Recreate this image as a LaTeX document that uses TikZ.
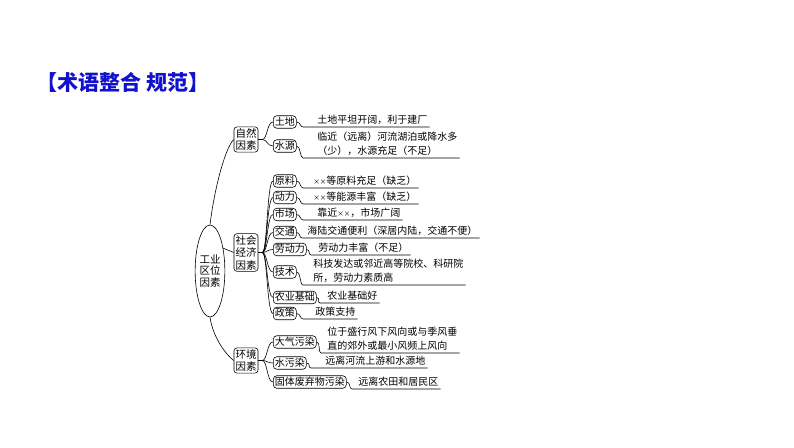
\documentclass[tikz,border=0pt]{standalone}
\usepackage{fontspec}
\setmainfont{Noto Sans CJK SC}
\usetikzlibrary{shapes.geometric}
\definecolor{titleblue}{RGB}{18,18,205}

\tikzset{
  yinsu/.style={draw, rounded corners=3pt, inner sep=1.5pt, align=center,
    font=\fontsize{10.5}{12.5}\selectfont},
  xiang/.style={draw, rounded corners=3.5pt, anchor=west, inner xsep=1.5pt,
    inner ysep=1pt, text height=8.5pt, text depth=2pt,
    font=\fontsize{10}{12}\selectfont},
  shuoming/.style={anchor=south west, inner xsep=0pt, inner ysep=2pt,
    align=left, font=\fontsize{10}{14}\selectfont},
  fenzhi/.style={to path={-- ++(4,0) .. controls +(5,0) and +(-6,0) .. (\tikztotarget)}},
  gouzi/.style={to path={.. controls +(4,0) and +(-3,0) .. (\tikztotarget)}}
}
\newcommand{\xx}{{\fontsize{6.5}{6.5}\selectfont ××}}

\begin{document}
\begin{tikzpicture}[x=1pt, y=-1pt, line width=0.6pt]
 \useasboundingbox (0,0) rectangle (794,447);
 \node[anchor=west, text=titleblue, font=\fontsize{21}{21}\selectfont\bfseries] (biaoti) at (33,82) {【术语整合 规范】};
 \node[ellipse, draw, inner sep=0pt, minimum width=26pt, minimum height=92pt,
   align=center, font=\fontsize{10.5}{11.7}\selectfont] (gongye) at (210,271) {工业\\区位\\因素};
 \begin{scope}[every node/.style={yinsu}]
  \node (ziran) at (246,139.5) {自然\\因素};
  \node (shehui) at (246,252.5) {社会\\经济\\因素};
  \node (huanjing) at (246,360.5) {环境\\因素};
 \end{scope}
 \begin{scope}[every node/.style={xiang}]
  \node (tudi) at (273,122) {土地};
  \node (shuiyuan) at (273,146) {水源};
  \node (yuanliao) at (273,181) {原料};
  \node (dongli) at (273,197.5) {动力};
  \node (shichang) at (273,214.5) {市场};
  \node (jiaotong) at (273,232.5) {交通};
  \node (laodongli) at (273,249.5) {劳动力};
  \node (jishu) at (273,272) {技术};
  \node (nongye) at (273,297.5) {农业基础};
  \node (zhengce) at (273,313.5) {政策};
  \node (daqi) at (273,342) {大气污染};
  \node (shuiwuran) at (273,363) {水污染};
  \node (guti) at (273,382) {固体废弃物污染};
 \end{scope}
 \begin{scope}[every node/.style={shuoming}]
  \node (t1) at (317,127) {土地平坦开阔，利于建厂};
  \node (t2) at (317,158) {临近（远离）河流湖泊或降水多\\（少），水源充足（不足）};
  \node (t3) at (313,188) {\xx 等原料充足（缺乏）};
  \node (t4) at (313,204) {\xx 等能源丰富（缺乏）};
  \node (t5) at (317,220) {靠近\xx，市场广阔};
  \node (t6) at (307,238) {海陆交通便利（深居内陆，交通不便）};
  \node (t7) at (318,255) {劳动力丰富（不足）};
  \node (t8) at (313,285) {科技发达或邻近高等院校、科研院\\所，劳动力素质高};
  \node (t9) at (327,303) {农业基础好};
  \node (t10) at (315,319) {政策支持};
  \node (t11) at (327,353) {位于盛行风下风向或与季风垂\\直的郊外或最小风频上风向};
  \node (t12) at (325,368) {远离河流上游和水源地};
  \node (t13) at (358,389) {远离农田和居民区};
 \end{scope}
  \draw (gongye.north) .. controls +(5,-40) and +(-8,8) .. (ziran.west);
  \draw (gongye.60) -- (shehui.west);
  \draw (gongye.south) .. controls +(3,20) and +(-8,-6) .. (huanjing.west);
  \path [-] (ziran.east) edge[fenzhi] (tudi.west);
  \path [-] (ziran.east) edge[fenzhi] (shuiyuan.west);
  \path [-] (shehui.east) edge[fenzhi] (yuanliao.west);
  \path [-] (shehui.east) edge[fenzhi] (dongli.west);
  \path [-] (shehui.east) edge[fenzhi] (shichang.west);
  \path [-] (shehui.east) edge[fenzhi] (jiaotong.west);
  \path [-] (shehui.east) edge[fenzhi] (laodongli.west);
  \path [-] (shehui.east) edge[fenzhi] (jishu.west);
  \path [-] (shehui.east) edge[fenzhi] (nongye.west);
  \path [-] (shehui.east) edge[fenzhi] (zhengce.west);
  \path [-] (huanjing.east) edge[fenzhi] (daqi.west);
  \path [-] (huanjing.east) edge[fenzhi] (shuiwuran.west);
  \path [-] (huanjing.east) edge[fenzhi] (guti.west);
  \draw (tudi.east) to[gouzi] ([xshift=-14pt]t1.south west) -- ([xshift=2pt]t1.south east);
  \draw (shuiyuan.east) to[gouzi] ([xshift=-14pt]t2.south west) -- ([xshift=2pt]t2.south east);
  \draw (yuanliao.east) to[gouzi] ([xshift=-10pt]t3.south west) -- ([xshift=2pt]t3.south east);
  \draw (dongli.east) to[gouzi] ([xshift=-10pt]t4.south west) -- ([xshift=2pt]t4.south east);
  \draw (shichang.east) to[gouzi] ([xshift=-14pt]t5.south west) -- ([xshift=2pt]t5.south east);
  \draw (jiaotong.east) to[gouzi] ([xshift=-5pt]t6.south west) -- ([xshift=2pt]t6.south east);
  \draw (laodongli.east) to[gouzi] ([xshift=-7pt]t7.south west) -- ([xshift=2pt]t7.south east);
  \draw (jishu.east) to[gouzi] ([xshift=-10pt]t8.south west) -- ([xshift=2pt]t8.south east);
  \draw (nongye.east) to[gouzi] ([xshift=-7pt]t9.south west) -- ([xshift=2pt]t9.south east);
  \draw (zhengce.east) to[gouzi] ([xshift=-12pt]t10.south west) -- ([xshift=2pt]t10.south east);
  \draw (daqi.east) to[gouzi] ([xshift=-6pt]t11.south west) -- ([xshift=2pt]t11.south east);
  \draw (shuiwuran.east) to[gouzi] ([xshift=-14pt]t12.south west) -- ([xshift=2pt]t12.south east);
  \draw (guti.east) to[gouzi] ([xshift=-6pt]t13.south west) -- ([xshift=2pt]t13.south east);
\end{tikzpicture}
\end{document}
